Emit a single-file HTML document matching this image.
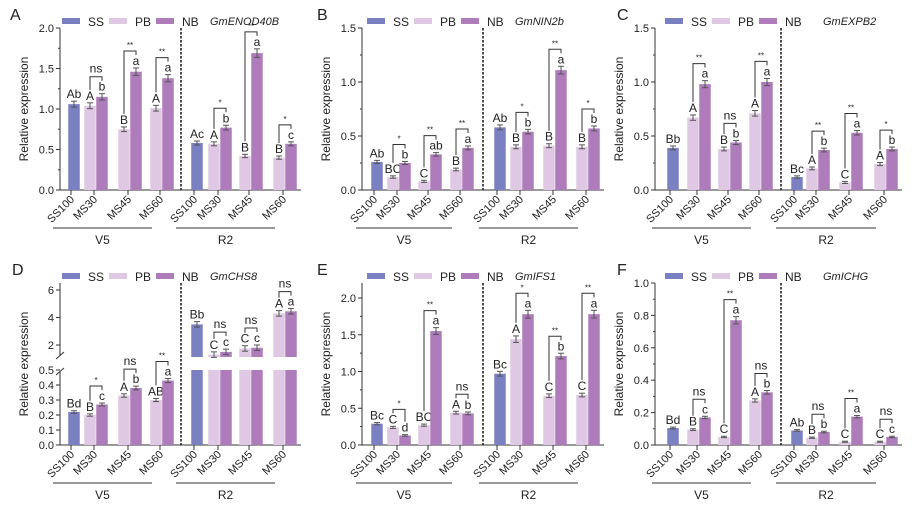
<!DOCTYPE html>
<html><head><meta charset="utf-8"><style>
html,body{margin:0;padding:0;background:#fff;}
svg{display:block;font-family:"Liberation Sans",Arial,sans-serif;}
</style></head><body>
<svg id="fig" width="912" height="507" viewBox="0 0 912 507" xmlns="http://www.w3.org/2000/svg"></svg>
<script>
const categories = ["SS100","MS30","MS45","MS60","SS100","MS30","MS45","MS60"];
const stages = ["V5","R2"];
const seriesNames = ["SS","PB","NB"];

// Panel A GmENOD40B
const aSS = [1.06, 0.58];
const aPB = [1.04, 0.75, 1.01, 0.57, 0.42, 0.40];
const aNB = [1.15, 1.46, 1.38, 0.77, 1.69, 0.57];
const aSSLab = ["Ab","Ac"];
const aPBLab = ["A","B","A","A","B","B"];
const aNBLab = ["b","a","a","b","a","c"];
const aSig = ["ns","**","**","*","**","*"];
const aTicks = [0,0.5,1.0,1.5,2.0];

// Panel B GmNIN2b
const bSS = [0.26, 0.58];
const bPB = [0.12, 0.08, 0.19, 0.40, 0.41, 0.40];
const bNB = [0.25, 0.33, 0.39, 0.54, 1.11, 0.57];
const bSSLab = ["Ab","Ab"];
const bPBLab = ["BC","C","B","B","B","B"];
const bNBLab = ["b","ab","a","b","a","b"];
const bSig = ["*","**","**","*","**","*"];
const bTicks = [0,0.5,1.0,1.5];

// Panel C GmEXPB2
const cSS = [0.39, 0.12];
const cPB = [0.67, 0.38, 0.71, 0.20, 0.07, 0.24];
const cNB = [0.98, 0.44, 1.00, 0.37, 0.53, 0.38];
const cSSLab = ["Bb","Bc"];
const cPBLab = ["A","B","A","A","C","A"];
const cNBLab = ["a","b","a","b","a","b"];
const cSig = ["**","ns","**","**","**","*"];
const cTicks = [0,0.5,1.0,1.5];

// Panel D GmCHS8 (broken axis)
const dSS = [0.22, 3.5];
const dPB = [0.20, 0.33, 0.30, 1.3, 1.75, 4.3];
const dNB = [0.27, 0.38, 0.43, 1.5, 1.8, 4.45];
const dSSLab = ["Bd","Bb"];
const dPBLab = ["B","A","AB","C","C","A"];
const dNBLab = ["c","b","a","c","c","a"];
const dSig = ["*","ns","**","ns","ns","ns"];
const dTicksLow = [0,0.1,0.2,0.3,0.4,0.5];
const dTicksHigh = [2,4,6];

// Panel E GmIFS1
const eSS = [0.29, 0.97];
const ePB = [0.24, 0.27, 0.44, 1.44, 0.67, 0.68];
const eNB = [0.13, 1.55, 0.43, 1.78, 1.21, 1.78];
const eSSLab = ["Bc","Bc"];
const ePBLab = ["C","BC","A","A","C","C"];
const eNBLab = ["d","a","b","a","b","a"];
const eSig = ["*","**","ns","*","**","**"];
const eTicks = [0,0.5,1.0,1.5,2.0];

// Panel F GmICHG
const fSS = [0.105, 0.09];
const fPB = [0.095, 0.05, 0.275, 0.045, 0.02, 0.02];
const fNB = [0.17, 0.77, 0.325, 0.08, 0.175, 0.05];
const fSSLab = ["Bd","Ab"];
const fPBLab = ["B","C","A","B","C","C"];
const fNBLab = ["c","a","b","b","a","c"];
const fSig = ["ns","**","ns","ns","**","ns"];
const fTicks = [0,0.2,0.4,0.6,0.8,1.0];

const NS="http://www.w3.org/2000/svg";
const COL={SS:"#7b80c2",PB:"#dfc8e3",NB:"#ae7cba"};
const svg=document.getElementById('fig');
function mk(tag,attrs,parent,txt){const e=document.createElementNS(NS,tag);for(const k in attrs)e.setAttribute(k,attrs[k]);if(txt!==undefined)e.textContent=txt;parent.appendChild(e);return e;}

const layouts=[
 {x0:60,centers:[73,96,130,162,196,220,251,285],dash:181,lx:62,gx:210},
 {x0:57,centers:[71,94,125,157,194,217,250,283],dash:178,lx:62,gx:210},
 {x0:50,centers:[67,94,125,156,191,213,246,281],dash:176,lx:60,gx:218}
];

function drawPanel(p){
 const L=layouts[p.col];
 const g=mk('g',{transform:`translate(${p.ox},${p.oy})`},svg);
 
 
 const y=p.y;
 const t=mk('text',{x:p.letter==='A'?10:12,y:20,'font-size':16,fill:'#222'},g,p.letter);
 
 
 const leg=mk('g',{},g);
 
 
 const lpos=[0,47,94];
 seriesNames.forEach((s,i)=>{
  const ex=mk('g',{},leg);
  
  
  mk('rect',{x:L.lx+lpos[i],y:18,width:18,height:6,fill:COL[s]},ex);
  mk('text',{x:L.lx+lpos[i]+26,y:26,'font-size':12,fill:'#222'},ex,s);
 });
 const gn=mk('text',{x:L.gx,y:25,'font-size':11,'font-style':'italic',fill:'#222'},g,p.gene);
 
 
 const ax=mk('g',{stroke:'#333','stroke-width':1},g);
 
 
 if(p.broken){
  mk('line',{x1:L.x0,y1:190,x2:L.x0,y2:117},ax);
  mk('line',{x1:L.x0,y1:101,x2:L.x0,y2:28},ax);
  mk('line',{x1:L.x0-4,y1:120,x2:L.x0+4,y2:113},ax);
  mk('line',{x1:L.x0-4,y1:104,x2:L.x0+4,y2:97},ax);
 } else mk('line',{x1:L.x0,y1:190,x2:L.x0,y2:28},ax);
 p.ticks.forEach((v,i)=>{
  const yy=y(v);
  mk('line',{x1:L.x0-4,y1:yy,x2:L.x0,y2:yy},ax);
  const tl=mk('text',{x:L.x0-6,y:yy+4,'font-size':11,'text-anchor':'end',fill:'#222',stroke:'none'},g,p.tickFmt(v));
  
  
  if(!p.broken && i<p.ticks.length-1){const m=y((v+p.ticks[i+1])/2);mk('line',{x1:L.x0-2,y1:m,x2:L.x0,y2:m},ax);}
 });
 const yt=mk('text',{x:0,y:0,'font-size':12,'text-anchor':'middle',fill:'#222',transform:`translate(${L.x0-32},109) rotate(-90)`},g,'Relative expression');
 
 
 const xa=mk('line',{x1:L.x0,y1:190,x2:L.centers[7]+16,y2:190,stroke:'#333'},g);
 
 
 categories.forEach((c,i)=>{
  const tx=L.centers[i]-2;
  mk('line',{x1:tx,y1:190,x2:tx,y2:195,stroke:'#333'},g);
  const lb=mk('text',{x:0,y:0,'font-size':11,'text-anchor':'end',fill:'#222',transform:`translate(${tx+4},200) rotate(-45)`},g,c);
  
  
 });
 stages.forEach((s,k)=>{
  const a=L.centers[k*4]-20,b=L.centers[k*4+3]-10;
  const gl=mk('line',{x1:a,y1:228,x2:b,y2:228,stroke:'#333'},g);
  
  
  const st=mk('text',{x:(a+b)/2,y:244,'font-size':12,'text-anchor':'middle',fill:'#222'},g,s);
  
  
 });
 const dl=mk('line',{x1:L.dash,y1:28,x2:L.dash,y2:190,stroke:'#222','stroke-width':1.6,'stroke-dasharray':'2.5,1.5'},g);
 
 
 const W=11.5;
 function bar(cx,v,col,name,lab){
  const bg=mk('g',{},g);
  
  
  if(p.broken && v>0.5){
   mk('rect',{x:cx-W/2,y:y(0.5),width:W,height:190-y(0.5),fill:col},bg);
   mk('rect',{x:cx-W/2,y:y(v),width:W,height:102-y(v),fill:col},bg);
  } else mk('rect',{x:cx-W/2,y:y(v),width:W,height:190-y(v),fill:col},bg);
  const e=p.broken&&v>0.5?0.2:v*0.025+p.emin;
  const t1=y(v+e),t2=y(Math.max(v-e,0));
  mk('line',{x1:cx,y1:t1,x2:cx,y2:t2,stroke:'#555'},bg);
  mk('line',{x1:cx-3,y1:t1,x2:cx+3,y2:t1,stroke:'#555'},bg);
  mk('line',{x1:cx-3,y1:t2,x2:cx+3,y2:t2,stroke:'#555'},bg);
  mk('text',{x:cx,y:t1-3,'font-size':12,'text-anchor':'middle',fill:'#222'},bg,lab);
  return t1-13;
 }
 for(let k=0;k<2;k++){
  bar(L.centers[k*4]+1,p.ss[k],COL.SS,'bar-ss-'+stages[k].toLowerCase(),p.ssLab[k]);
  for(let j=0;j<3;j++){
   const idx=k*3+j,c=L.centers[k*4+j+1];
   const pl=bar(c-6,p.pb[idx],COL.PB,'bar-pb-'+categories[k*4+j+1].toLowerCase()+'-'+stages[k].toLowerCase(),p.pbLab[idx]);
   const nl=bar(c+6,p.nb[idx],COL.NB,'bar-nb-'+categories[k*4+j+1].toLowerCase()+'-'+stages[k].toLowerCase(),p.nbLab[idx]);
   const top=Math.min(pl,nl)-4;
   const br=mk('g',{},g);
   
   
   mk('polyline',{points:`${c-6},${pl} ${c-6},${top} ${c+6},${top} ${c+6},${nl}`,fill:'none',stroke:'#333'},br);
   const sg=p.sig[idx];
   mk('text',{x:c,y:sg==='ns'?top-4:top-3,'font-size':sg==='ns'?12:8,'text-anchor':'middle',fill:'#222'},br,sg);
  }
 }
}
const f1=v=>v.toFixed(1);
const lin=(top,max)=>v=>190-v*(190-top)/max;
const dY=v=>v<=0.5?190-v*150:90-(v-2)*13.75;
drawPanel({letter:'A',gene:'GmENOD40B',col:0,ox:0,oy:0,y:lin(28,2.0),ticks:aTicks,tickFmt:f1,ss:aSS,pb:aPB,nb:aNB,ssLab:aSSLab,pbLab:aPBLab,nbLab:aNBLab,sig:aSig,emin:0.01});
drawPanel({letter:'B',gene:'GmNIN2b',col:1,ox:305,oy:0,y:lin(28,1.5),ticks:bTicks,tickFmt:f1,ss:bSS,pb:bPB,nb:bNB,ssLab:bSSLab,pbLab:bPBLab,nbLab:bNBLab,sig:bSig,emin:0.008});
drawPanel({letter:'C',gene:'GmEXPB2',col:2,ox:605,oy:0,y:lin(28,1.5),ticks:cTicks,tickFmt:f1,ss:cSS,pb:cPB,nb:cNB,ssLab:cSSLab,pbLab:cPBLab,nbLab:cNBLab,sig:cSig,emin:0.008});
drawPanel({letter:'D',gene:'GmCHS8',col:0,ox:0,oy:255,y:dY,broken:true,ticks:dTicksLow.concat(dTicksHigh),tickFmt:v=>v>=1?String(v):v.toFixed(1),ss:dSS,pb:dPB,nb:dNB,ssLab:dSSLab,pbLab:dPBLab,nbLab:dNBLab,sig:dSig,emin:0.003});
drawPanel({letter:'E',gene:'GmIFS1',col:1,ox:305,oy:255,y:v=>190-v*73.5,ticks:eTicks,tickFmt:f1,ss:eSS,pb:ePB,nb:eNB,ssLab:eSSLab,pbLab:ePBLab,nbLab:eNBLab,sig:eSig,emin:0.008});
drawPanel({letter:'F',gene:'GmICHG',col:2,ox:605,oy:255,y:lin(28,1.0),ticks:fTicks,tickFmt:f1,ss:fSS,pb:fPB,nb:fNB,ssLab:fSSLab,pbLab:fPBLab,nbLab:fNBLab,sig:fSig,emin:0.003});
</script>
</body></html>
